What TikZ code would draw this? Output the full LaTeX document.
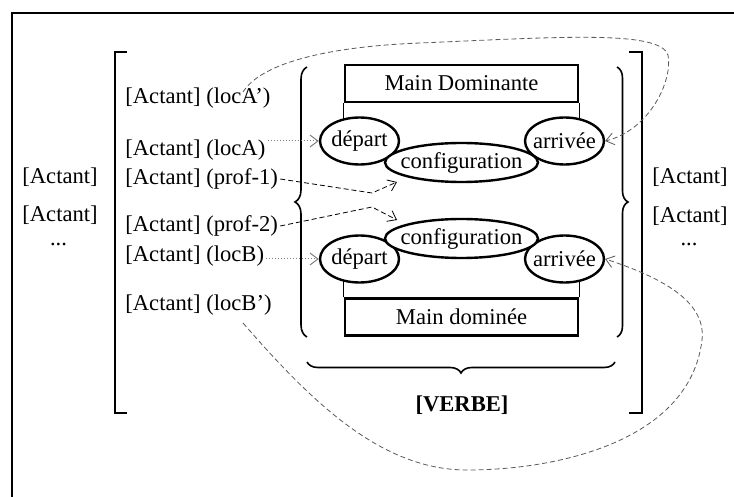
\documentclass[tikz,border=0pt]{standalone}
\usepackage{fontspec}
\setmainfont{Liberation Serif}
\usetikzlibrary{shapes.geometric,decorations.pathreplacing,arrows.meta}

\tikzset{
    lab/.style={anchor=west,inner sep=1pt},
    handbox/.style={draw,line width=1.2pt,fill=white,inner sep=0pt,minimum width=116.5pt,minimum height=18.5pt},
    pole/.style={ellipse,draw,line width=1.2pt,fill=white,inner xsep=-4pt,inner ysep=0pt,minimum width=39.5pt,minimum height=23.5pt},
    confi/.style={pole,minimum width=76.5pt,minimum height=19.5pt},
    bracket/.style={line width=0.8pt},
    curly/.style={decorate,line width=0.8pt},
    dotlink/.style={densely dotted,gray,line width=0.5pt,-{Straight Barb[length=4pt,width=6pt]}},
    linkdash/.style={dash pattern=on 2.5pt off 1.5pt,line width=0.4pt,-{Straight Barb[length=4pt,width=6pt]}}
}

\begin{document}
\begin{tikzpicture}[x=0.5pt,y=-0.5pt,font=\fontsize{11.3}{13}\selectfont]
                    \useasboundingbox (0,0) rectangle (734,497);
                    \draw[line width=0.75pt] (734,13) -- (12,13) -- (12,497);

                    \draw[bracket] (127,52) -- (115,52) -- (115,413) -- (127,413);
                    \draw[bracket] (629,52) -- (642,52) -- (642,413) -- (629,413);

                    \draw[curly,decoration={brace,amplitude=6pt}] (307,337) -- (307,67);
                    \draw[curly,decoration={brace,amplitude=5.5pt}] (617,67) -- (617,337);
                    \draw[curly,decoration={brace,amplitude=5.5pt}] (615,362) -- (307,362);

                    \node[lab] (actL1) at (20,177) {[Actant]};
                    \node[lab] (actL2) at (20,215) {[Actant]};
                    \node (dotsL) at (58.5,244) {...};
                    \node[lab] (actR1) at (650,177) {[Actant]};
                    \node[lab] (actR2) at (650,216) {[Actant]};
                    \node (dotsR) at (689,244) {...};

                    \node[lab] (locAp) at (123,98) {[Actant] (locA')};
                    \node[lab] (locA) at (123,150) {[Actant] (locA)};
                    \node[lab] (profi) at (123,179) {[Actant] (prof-1)};
                    \node[lab] (profii) at (123,226) {[Actant] (prof-2)};
                    \node[lab] (locB) at (123,256) {[Actant] (locB)};
                    \node[lab] (locBp) at (123,305) {[Actant] (locB')};

                    \node[handbox] (domi) at (461.5,83.5) {Main Dominante};
                    \node[handbox] (domee) at (461.5,317) {Main dominée};

                    \draw[thin] (domi.south west) -- (domi.south west |- 0,141);
                    \draw[thin] (domi.south east) -- (domi.south east |- 0,141);
                    \draw[thin] (domee.north west) -- (domee.north west |- 0,259);
                    \draw[thin] (domee.north east) -- (domee.north east |- 0,259);

                    \node[pole] (dep1) at (359.5,141) {départ};
                    \node[pole] (arr1) at (564.5,141) {arrivée};
                    \node[confi] (conf1) at (461.5,162.5) {configuration};
                    \node[pole] (dep2) at (359.5,259) {départ};
                    \node[pole] (arr2) at (564.5,259) {arrivée};
                    \node[confi] (conf2) at (461.5,238.5) {configuration};

                    \node[font=\fontsize{11.3}{13}\selectfont\bfseries] (verbe) at (462,405) {[VERBE]};

                    \coordinate (kink1) at (372,193);
                    \coordinate (tip1) at (397,182);
                    \coordinate (kink2) at (372,207);
                    \coordinate (tip2) at (397,220);
                    \coordinate (startA) at (243,92);
                    \coordinate (startB) at (243,323);

                    \draw[dotlink] (dep1.west -| locA.east) -- (dep1.west);
                    \draw[dotlink] (dep2.west -| locB.east) -- (dep2.west);
                    \draw[linkdash] (profi.east) -- (kink1) -- (tip1);
                    \draw[linkdash] (profii.east) -- (kink2) -- (tip2);

                    \draw[linkdash,gray!70!black] (startA) .. controls (260,65) and (320,47) .. (420,43) .. controls (560,37) and (660,30) .. (668,55) .. controls (673,80) and (650,130) .. (arr1.east);
                    \draw[linkdash,gray!70!black] (startB) .. controls (310,400) and (380,470) .. (467,470) .. controls (560,470) and (690,440) .. (702,340) .. controls (706,305) and (670,280) .. (arr2.east);
\end{tikzpicture}
\end{document}
